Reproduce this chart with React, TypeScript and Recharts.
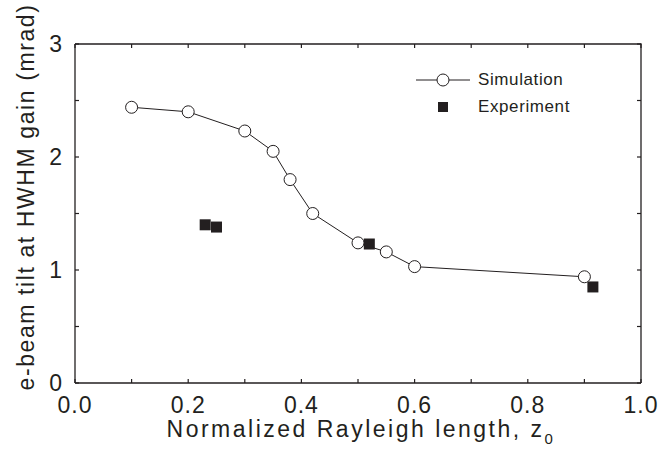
import React from 'react';
import { ComposedChart, Line, Scatter, XAxis, YAxis, Legend } from 'recharts';

const simX = [0.1, 0.2, 0.3, 0.35, 0.38, 0.42, 0.5, 0.55, 0.6, 0.9];
const simY = [2.44, 2.4, 2.23, 2.05, 1.8, 1.5, 1.24, 1.16, 1.03, 0.94];
const expX = [0.23, 0.25, 0.52, 0.915];
const expY = [1.4, 1.38, 1.23, 0.85];

const xTicks = [0, 0.1, 0.2, 0.3, 0.4, 0.5, 0.6, 0.7, 0.8, 0.9, 1.0];
const yTicks = [0, 0.5, 1, 1.5, 2, 2.5, 3];
const xLabelTicks = [0, 0.2, 0.4, 0.6, 0.8, 1.0];
const yLabelTicks = [0, 1, 2, 3];

const simData = simX.map((x, i) => ({ x, y: simY[i] }));
const expData = expX.map((x, i) => ({ x, y: expY[i] }));

const X_MIN = 0;
const X_MAX = 1;
const Y_MIN = 0;
const Y_MAX = 3;

// box frame (top + right edges) and tick anchor points, all in data units
const frameData = [
    { x: X_MIN, y: Y_MAX },
    { x: X_MAX, y: Y_MAX },
    { x: X_MAX, y: Y_MIN },
];
const bottomTicks = xTicks.map((t) => ({ x: t, y: Y_MIN }));
const topTicks = xTicks.map((t) => ({ x: t, y: Y_MAX }));
const leftTicks = yTicks.map((t) => ({ x: X_MIN, y: t }));
const rightTicks = yTicks.map((t) => ({ x: X_MAX, y: t }));

const INK = '#231f20';
const FONT = '"Liberation Sans", Arial, sans-serif';
const TICK_LEN = 4;
const FRAME_W = 1.3;

const isLabeled = (v: number, list: number[]) => list.some((t) => Math.abs(t - v) < 1e-6);

const XLabel = (props: any) => {
    const { x, y, payload } = props;
    if (!isLabeled(payload.value, xLabelTicks)) return <g />;
    return (
        <text x={x} y={y} dy="0.71em" textAnchor="middle" fill={INK} fontSize={23} fontFamily={FONT} letterSpacing={1}>
            {payload.value.toFixed(1)}
        </text>
    );
};

const YLabel = (props: any) => {
    const { x, y, payload } = props;
    if (!isLabeled(payload.value, yLabelTicks)) return <g />;
    return (
        <text x={x} y={y} dy="0.36em" textAnchor="end" fill={INK} fontSize={23} fontFamily={FONT}>
            {String(payload.value)}
        </text>
    );
};

// short inward tick drawn at a scaled point
const tickShape = (dx: number, dy: number) => (props: any) => {
    const { cx, cy } = props;
    if (cx == null || cy == null) return <g />;
    return <line x1={cx} y1={cy} x2={cx + dx * TICK_LEN} y2={cy + dy * TICK_LEN} stroke={INK} strokeWidth={1.2} />;
};

const SquareDot = (props: any) => {
    const { cx, cy } = props;
    if (cx == null || cy == null) return <g />;
    return <rect x={cx - 5.5} y={cy - 5.5} width={11} height={11} fill={INK} />;
};

const LegendBox = () => (
    <div style={{ fontFamily: FONT, fontSize: 17, color: INK, letterSpacing: 0.6 }}>
        <div style={{ display: 'flex', alignItems: 'center', height: 27 }}>
            <svg width={56} height={16}>
                <line x1={0} y1={8} x2={54} y2={8} stroke={INK} strokeWidth={1} />
                <circle cx={27} cy={8} r={6} fill="#fff" stroke={INK} strokeWidth={1} />
            </svg>
            <span style={{ marginLeft: 6 }}>Simulation</span>
        </div>
        <div style={{ display: 'flex', alignItems: 'center', height: 27 }}>
            <svg width={56} height={16}>
                <rect x={22} y={3} width={10} height={10} fill={INK} />
            </svg>
            <span style={{ marginLeft: 6 }}>Experiment</span>
        </div>
    </div>
);

export default function App() {
    return (
        <div style={{ position: 'absolute', left: 0, top: 0, background: '#fff' }}>
            <ComposedChart width={660} height={460} margin={{ top: 44, right: 19, bottom: 0, left: 0 }}>
                <XAxis
                    type="number"
                    dataKey="x"
                    domain={[X_MIN, X_MAX]}
                    ticks={xTicks}
                    interval={0}
                    height={77}
                    tickSize={0}
                    tickMargin={14}
                    tickLine={false}
                    axisLine={{ stroke: INK, strokeWidth: FRAME_W }}
                    tick={<XLabel />}
                    label={{
                        content: (p: any) => {
                            const vb = p.viewBox;
                            return (
                                <text
                                    x={vb.x + vb.width / 2 + 3}
                                    y={437}
                                    textAnchor="middle"
                                    fill={INK}
                                    fontSize={23}
                                    fontFamily={FONT}
                                    letterSpacing={2.5}
                                >
                                    Normalized Rayleigh length, z
                                    <tspan fontSize={15} dy={7}>0</tspan>
                                </text>
                            );
                        },
                    }}
                />
                <YAxis
                    type="number"
                    domain={[Y_MIN, Y_MAX]}
                    ticks={yTicks}
                    interval={0}
                    width={75}
                    tickSize={0}
                    tickMargin={13}
                    tickLine={false}
                    axisLine={{ stroke: INK, strokeWidth: FRAME_W }}
                    tick={<YLabel />}
                    label={{
                        content: () => (
                            <text
                                x={0}
                                y={0}
                                transform="translate(34, 197) rotate(-90)"
                                textAnchor="middle"
                                fill={INK}
                                fontSize={23}
                                fontFamily={FONT}
                                letterSpacing={1.6}
                            >
                                e-beam tilt at HWHM gain (mrad)
                            </text>
                        ),
                    }}
                />
                <Legend
                    layout="vertical"
                    align="center"
                    verticalAlign="middle"
                    wrapperStyle={{ left: 416, top: 66, width: 200 }}
                    content={() => <LegendBox />}
                />
                <Line
                    data={frameData}
                    dataKey="y"
                    type="linear"
                    stroke={INK}
                    strokeWidth={FRAME_W}
                    dot={false}
                    activeDot={false}
                    legendType="none"
                    isAnimationActive={false}
                />
                <Scatter data={bottomTicks} dataKey="y" legendType="none" shape={tickShape(0, -1)} isAnimationActive={false} />
                <Scatter data={topTicks} dataKey="y" legendType="none" shape={tickShape(0, 1)} isAnimationActive={false} />
                <Scatter data={leftTicks} dataKey="y" legendType="none" shape={tickShape(1, 0)} isAnimationActive={false} />
                <Scatter data={rightTicks} dataKey="y" legendType="none" shape={tickShape(-1, 0)} isAnimationActive={false} />
                <Line
                    data={simData}
                    dataKey="y"
                    name="Simulation"
                    type="linear"
                    stroke={INK}
                    strokeWidth={1}
                    dot={{ r: 6, fill: '#fff', stroke: INK, strokeWidth: 1 }}
                    activeDot={false}
                    isAnimationActive={false}
                />
                <Scatter
                    data={expData}
                    dataKey="y"
                    name="Experiment"
                    shape={<SquareDot />}
                    isAnimationActive={false}
                />
            </ComposedChart>
        </div>
    );
}
